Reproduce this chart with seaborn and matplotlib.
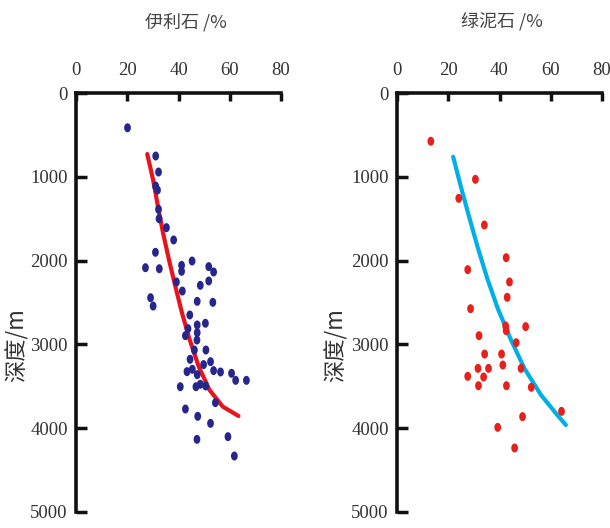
import numpy as np
import pandas as pd
import matplotlib
matplotlib.use("Agg")
import matplotlib.pyplot as plt
import seaborn as sns
from matplotlib.path import Path

# ---------------- data ----------------
illite_pct = [20.1, 31.1, 32.2, 31.1, 31.8, 32.2, 32.4, 35.3, 38.1, 31.0,
              27.1, 32.5, 41.2, 41.2, 45.3, 51.8, 53.7, 39.2, 41.5, 48.5,
              51.8, 29.1, 30.1, 47.3, 53.4, 44.4, 50.5, 47.3, 43.7, 47.3,
              42.7, 47.2, 50.7, 46.2, 44.5, 52.5, 49.8, 45.4, 43.3, 53.7,
              56.4, 47.3, 60.7, 62.3, 66.5, 40.7, 46.8, 48.5, 50.6, 54.4,
              42.7, 47.5, 52.5, 47.2, 59.3, 61.8]
illite_depth = [415, 752, 943, 1110, 1158, 1388, 1500, 1607, 1754, 1901,
                2085, 2097, 2057, 2128, 2005, 2072, 2136, 2255, 2363, 2295,
                2243, 2443, 2542, 2486, 2498, 2649, 2748, 2768, 2812, 2860,
                2896, 2948, 3067, 3067, 3178, 3206, 3241, 3297, 3325, 3313,
                3329, 3361, 3345, 3429, 3429, 3505, 3505, 3476, 3496, 3695,
                3771, 3858, 3942, 4133, 4101, 4332]

illite_fit_pct = [27.8, 30.1, 32.0, 34.0, 36.3, 38.8, 41.4, 44.4, 47.9, 52.1, 57.3, 63.4]
illite_fit_depth = [728, 1038, 1357, 1675, 1993, 2311, 2629, 2947, 3266, 3544, 3743, 3854]

chlorite_pct = [13.2, 30.6, 24.1, 34.1, 42.6, 27.6, 43.9, 43.0, 28.7, 32.0,
                42.4, 42.6, 50.2, 46.5, 34.2, 40.8, 41.3, 31.6, 35.7, 48.4,
                27.6, 33.8, 31.8, 42.7, 52.4, 64.2, 49.0, 39.3, 45.9]
chlorite_depth = [576, 1030, 1257, 1575, 1965, 2108, 2255, 2438, 2574, 2896,
                  2780, 2836, 2788, 2980, 3115, 3115, 3246, 3286, 3286, 3286,
                  3381, 3389, 3493, 3493, 3512, 3799, 3862, 3990, 4236]

chlorite_fit_pct = [21.9, 25.1, 28.3, 31.6, 35.2, 39.3, 44.2, 49.7, 56.2, 62.0, 65.9]
chlorite_fit_depth = [760, 1138, 1495, 1853, 2211, 2569, 2927, 3286, 3604, 3822, 3962]

x_ticks = [0, 20, 40, 60, 80]
y_ticks = [0, 1000, 2000, 3000, 4000, 5000]
x_titles = ["伊利石 /%", "绿泥石 /%"]
y_title = "深度/m"

# ---------------- style ----------------
sns.set_theme(style="white")
plt.rcParams["font.family"] = ["Liberation Serif", "Noto Sans CJK SC", "DejaVu Sans"]

cjk = ["Noto Sans CJK SC", "DejaVu Sans"]

# vertically elongated dot marker
t = np.linspace(0, 2 * np.pi, 40)
ell = Path(np.column_stack([np.cos(t) * 0.75, np.sin(t)]), closed=True)

fig = plt.figure(figsize=(6.10, 5.28), dpi=100)
fig.patch.set_facecolor("white")

axes_pos = [[76 / 610, 16 / 528, 205 / 610, 419 / 528],
            [397 / 610, 16 / 528, 205 / 610, 419 / 528]]

panels = [
    (illite_pct, illite_depth, illite_fit_pct, illite_fit_depth, "#26268c", "#e8141c"),
    (chlorite_pct, chlorite_depth, chlorite_fit_pct, chlorite_fit_depth, "#e8201c", "#00aee8"),
]

for i, (px, py, fx, fy, dot_c, line_c) in enumerate(panels):
    ax = fig.add_axes(axes_pos[i])
    ax.set_facecolor("white")
    pts = pd.DataFrame({"pct": px, "depth": py})
    fit = pd.DataFrame({"pct": fx, "depth": fy})
    sns.lineplot(data=fit, x="pct", y="depth", sort=False, estimator=None,
                 color=line_c, linewidth=3.0, ax=ax, zorder=2)
    sns.scatterplot(data=pts, x="pct", y="depth", marker=ell, s=42,
                    color=dot_c, edgecolor="none", ax=ax, zorder=3)
    ax.set_xlim(0, 80)
    ax.set_ylim(5000, 0)
    ax.set_xticks(x_ticks)
    ax.set_yticks(y_ticks)
    ax.xaxis.tick_top()
    ax.tick_params(axis="x", direction="in", length=6, width=2.5, pad=10,
                   labelsize=13.5, colors="#111111", top=True, bottom=False)
    ax.tick_params(axis="y", direction="in", length=8, width=2.5, pad=6,
                   labelsize=13.5, colors="#111111", left=True, right=False)
    for lab in ax.get_xticklabels() + ax.get_yticklabels():
        lab.set_color("#333333")
    for s in ["right", "bottom"]:
        ax.spines[s].set_visible(False)
    for s in ["left", "top"]:
        ax.spines[s].set_visible(True)
        ax.spines[s].set_linewidth(2.6)
        ax.spines[s].set_color("#111111")
    ax.set_xlabel("")
    ax.set_ylabel("")
    ax.grid(False)

# titles
fig.text(186 / 610, 1 - 22 / 528, x_titles[0], ha="center", va="center",
         fontsize=13, color="#444444", family=cjk)
fig.text(502 / 610, 1 - 22 / 528, x_titles[1], ha="center", va="center",
         fontsize=13, color="#444444", family=cjk)
fig.text(17 / 610, 1 - 345 / 528, y_title, ha="center", va="center",
         rotation=90, fontsize=16, color="#333333", family=cjk)
fig.text(336 / 610, 1 - 345 / 528, y_title, ha="center", va="center",
         rotation=90, fontsize=16, color="#333333", family=cjk)

fig.savefig("out.png", dpi=100, facecolor="white")
